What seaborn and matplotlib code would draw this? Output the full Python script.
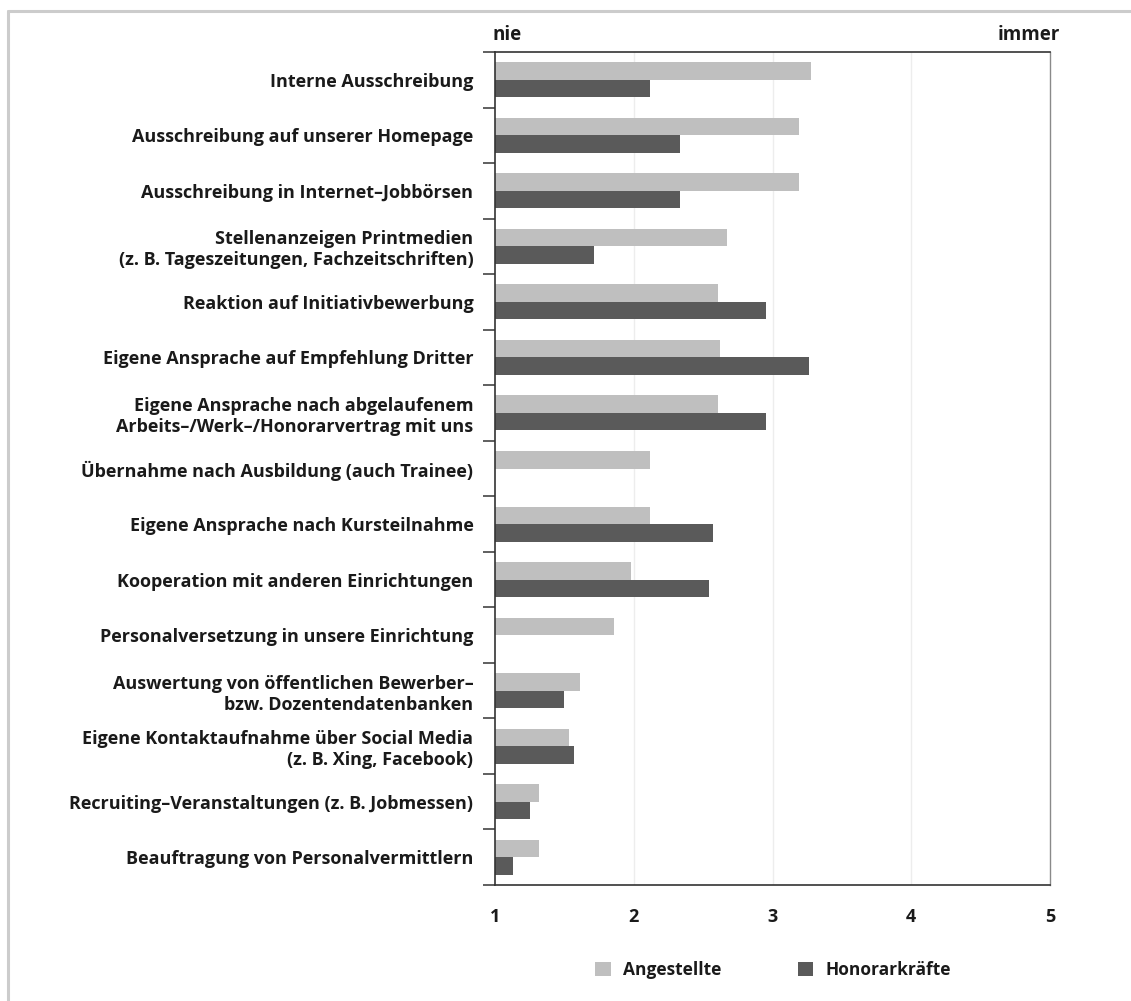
import numpy as np
import pandas as pd
import matplotlib
matplotlib.use("Agg")
import matplotlib.pyplot as plt
from matplotlib.lines import Line2D
from matplotlib.ticker import FixedLocator
import seaborn as sns

categories = [
    "Interne Ausschreibung",
    "Ausschreibung auf unserer Homepage",
    "Ausschreibung in Internet–Jobbörsen",
    "Stellenanzeigen Printmedien\n(z. B. Tageszeitungen, Fachzeitschriften)",
    "Reaktion auf Initiativbewerbung",
    "Eigene Ansprache auf Empfehlung Dritter",
    "Eigene Ansprache nach abgelaufenem\nArbeits–/Werk–/Honorarvertrag mit uns",
    "Übernahme nach Ausbildung (auch Trainee)",
    "Eigene Ansprache nach Kursteilnahme",
    "Kooperation mit anderen Einrichtungen",
    "Personalversetzung in unsere Einrichtung",
    "Auswertung von öffentlichen Bewerber–\nbzw. Dozentendatenbanken",
    "Eigene Kontaktaufnahme über Social Media\n(z. B. Xing, Facebook)",
    "Recruiting–Veranstaltungen (z. B. Jobmessen)",
    "Beauftragung von Personalvermittlern",
]
angestellte = [3.28, 3.19, 3.19, 2.67, 2.61, 2.62, 2.61, 2.12, 2.12, 1.98, 1.86, 1.61, 1.53, 1.32, 1.32]
honorarkraefte = [2.12, 2.33, 2.33, 1.71, 2.95, 3.26, 2.95, np.nan, 2.57, 2.54, np.nan, 1.50, 1.57, 1.25, 1.13]
series_names = ["Angestellte", "Honorarkräfte"]
x_ticks = [1, 2, 3, 4, 5]
end_labels = ["nie", "immer"]

colors = {"Angestellte": "#bfbfbf", "Honorarkräfte": "#5a5a5a"}

df = pd.DataFrame({
    "Kategorie": categories * 2,
    "Wert": angestellte + honorarkraefte,
    "Gruppe": [series_names[0]] * len(categories) + [series_names[1]] * len(categories),
})

sns.set_theme(style="white")
plt.rcParams["font.family"] = ["Open Sans", "DejaVu Sans"]
plt.rcParams["font.weight"] = "bold"
plt.rcParams["text.color"] = "#1a1a1a"
plt.rcParams["xtick.color"] = "#1a1a1a"
plt.rcParams["ytick.color"] = "#1a1a1a"

W, H = 1131, 1001
fig = plt.figure(figsize=(W / 100, H / 100), dpi=100)
ax = fig.add_axes([495 / W, 1 - 885 / H, (1050 - 495) / W, (885 - 52) / H])

sns.barplot(data=df, y="Kategorie", x="Wert", hue="Gruppe", order=categories,
            hue_order=series_names, palette=colors, width=0.63, linewidth=0,
            orient="y", ax=ax, legend=True)

ax.set_xlim(1, 5)
ax.set_ylim(len(categories) - 0.5, -0.5)
ax.set_xlabel("")
ax.set_ylabel("")

for gx in [2, 3, 4]:
    ax.axvline(gx, color="#ededed", lw=1, zorder=0)
ax.set_axisbelow(True)

ax.set_xticks(x_ticks)
ax.set_xticklabels([str(t) for t in x_ticks], fontsize=13, fontweight="bold")
ax.tick_params(axis="x", direction="out", length=8.6, width=1.2, color="#444444", pad=8)

ax.set_yticks(range(len(categories)))
ax.set_yticklabels(categories, fontsize=13, fontweight="bold", linespacing=1.22)
ax.tick_params(axis="y", which="major", length=0, pad=15.5)
ax.yaxis.set_minor_locator(FixedLocator(np.arange(-0.5, len(categories) + 0.5, 1)))
ax.tick_params(axis="y", which="minor", direction="out", length=8.6, width=1.2, color="#444444", left=True)

for s in ["left", "bottom", "top"]:
    ax.spines[s].set_visible(True)
    ax.spines[s].set_color("#333333")
    ax.spines[s].set_linewidth(1.2)
ax.spines["right"].set_visible(True)
ax.spines["right"].set_color("#8a8a8a")
ax.spines["right"].set_linewidth(1.0)

fig.text(493 / W, 1 - 35 / H, end_labels[0], ha="left", va="center", fontsize=13.5, fontweight="bold")
fig.text(1060 / W, 1 - 35 / H, end_labels[1], ha="right", va="center", fontsize=13.5, fontweight="bold")

handles, labels = ax.get_legend_handles_labels()
ax.get_legend().remove()
fig.legend(handles, labels, loc="center", bbox_to_anchor=(773 / W, 1 - 970 / H), ncol=2,
           frameon=False, handlelength=0.9, handleheight=0.9, handletextpad=0.7,
           columnspacing=4.4, prop={"size": 12.5, "weight": "bold"})

fig.add_artist(Line2D([8 / W, 8 / W], [0, 1 - 11 / H], transform=fig.transFigure, color="#cccccc", lw=2.2))
fig.add_artist(Line2D([8 / W, 1], [1 - 11 / H, 1 - 11 / H], transform=fig.transFigure, color="#cccccc", lw=2.2))

fig.savefig("out.png", dpi=100, facecolor="white")
